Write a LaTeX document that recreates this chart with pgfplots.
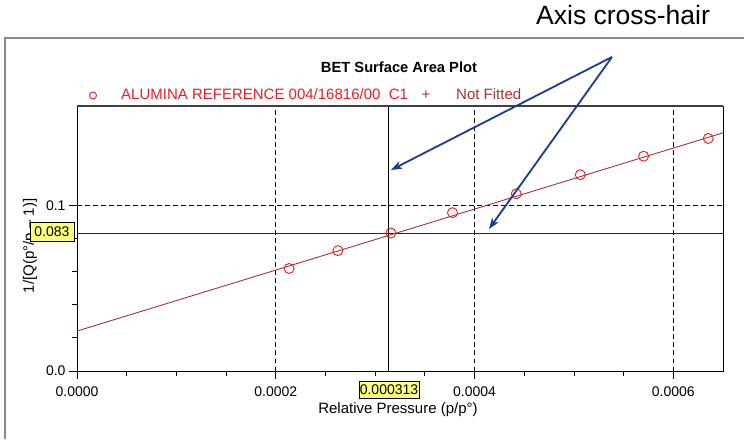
\documentclass[border=0pt]{standalone}
\usepackage{fontspec}
\setmainfont{Liberation Sans}
\usepackage{pgfplots}
\pgfplotsset{compat=1.18}
\usetikzlibrary{arrows.meta}
\definecolor{ptred}{HTML}{E41E26}
\definecolor{fitred}{HTML}{A83232}
\definecolor{navy}{HTML}{1C3A8E}
\definecolor{hlyellow}{HTML}{FFFF80}
\definecolor{framegray}{HTML}{8A8A8A}
\begin{document}
\begin{tikzpicture}[x=1pt,y=1pt]
\path[use as bounding box] (0,0) rectangle (744,439);
% outer panel frame
\draw[framegray, line width=2pt] (5,0) -- (5,401) -- (744,401);
\begin{axis}[
  at={(77pt,68pt)}, anchor=south west,
  scale only axis, width=646pt, height=265pt,
  xmin=0, xmax=0.00065, ymin=0, ymax=0.16,
  axis line style={black, line width=0.9pt},
  xtick={0,0.0002,0.0004,0.0006},
  xticklabels={0.0000,0.0002,0.0004,0.0006},
  minor x tick num=3,
  ytick={0,0.1},
  yticklabels={0.0,0.1},
  minor y tick num=4,
  scaled x ticks=false, scaled y ticks=false,
  tick align=outside,
  xtick pos=left, ytick pos=left,
  major tick length=8pt, minor tick length=5pt,
  tick style={black, line width=0.8pt},
  tick label style={font=\fontsize{14}{16}\selectfont},
  xticklabel style={yshift=-4pt},
  /pgf/number format/assume math mode=true,
  grid=major,
  major grid style={black, line width=0.8pt, dash pattern=on 4.5pt off 3.5pt},
  clip=true,
]
% cross-hair
\addplot[black, line width=1pt] coordinates {(0.000313,0) (0.000313,0.16)};
\addplot[black!85, line width=1.2pt] coordinates {(0,0.083) (0.00065,0.083)};
% fitted line
\addplot[fitred, line width=0.9pt] coordinates {(0,0.0241) (0.00065,0.1438)};
% data points
\addplot[only marks, mark=o, mark size=5pt, ptred, mark options={line width=0.9pt}] coordinates {
(0.0002134,0.0619)
(0.0002625,0.0727)
(0.0003158,0.0833)
(0.0003778,0.0956)
(0.0004420,0.1070)
(0.0005064,0.1185)
(0.0005701,0.1297)
(0.0006352,0.1404)
};
\end{axis}
% top edge of the axis box, darker and thicker as in the reference
\draw[black!75, line width=1.8pt] (77,333) -- (723,333);
% axis labels
\node[rotate=90, font=\fontsize{15}{17}\selectfont] at (30,193) {1/[Q(p°/p -- 1)]};
\node[anchor=base, font=\fontsize{15}{17}\selectfont] at (398,25) {Relative Pressure (p/p°)};
% highlighted cross-hair values
\node[draw=black, fill=hlyellow, line width=0.6pt, inner sep=1pt, minimum width=44pt, minimum height=19pt, font=\fontsize{14}{16}\selectfont] at (52,207) {0.083};
\node[draw=black, fill=hlyellow, line width=0.6pt, inner sep=1pt, minimum width=60pt, minimum height=17pt, font=\fontsize{14}{16}\selectfont] at (389,49) {0.000313};
% title and legend
\node[anchor=base, font=\bfseries\fontsize{14.7}{17}\selectfont] at (399,366) {BET Surface Area Plot};
\draw[ptred, line width=0.9pt] (93,343.5) circle (3.5pt);
\node[anchor=base west, inner sep=0pt, text=ptred, font=\fontsize{15}{17}\selectfont] at (121,339) {ALUMINA REFERENCE 004/16816/00\ \ C1};
\node[anchor=base, inner sep=0pt, text=fitred, font=\fontsize{15}{17}\selectfont] at (426,339) {+};
\node[anchor=base west, inner sep=0pt, text=fitred, font=\fontsize{15}{17}\selectfont] at (456,339) {Not Fitted};
% annotation
\node[anchor=base west, inner sep=0pt, font=\fontsize{26.5}{30}\selectfont] at (536,414) {Axis cross-hair};
\draw[navy, line width=1.8pt, -{Stealth[length=11pt, width=8pt, inset=3pt]}] (612,382) -- (391,269);
\draw[navy, line width=1.8pt, -{Stealth[length=11pt, width=8pt, inset=3pt]}] (612,382) -- (489,210);
\end{tikzpicture}
\end{document}
